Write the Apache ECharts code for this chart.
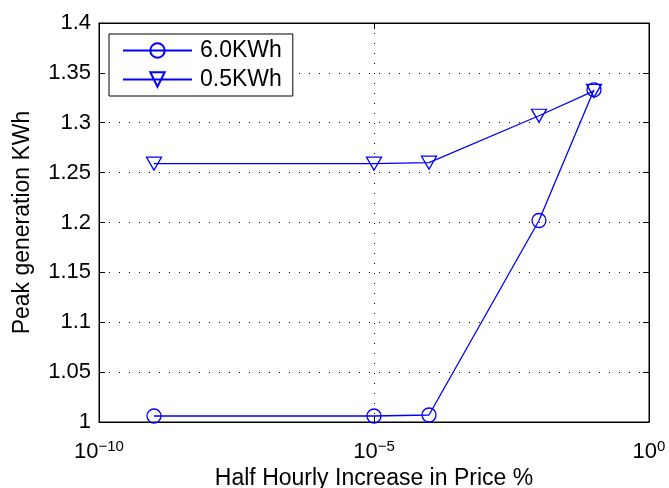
<!DOCTYPE html>
<html>
<head>
<meta charset="utf-8">
<script src="https://cdn.jsdelivr.net/npm/echarts@6/dist/echarts.min.js"></script>
<style>html,body{margin:0;padding:0;background:#fff}#c{width:669px;height:488px}</style>
</head>
<body>
<div id="c"></div>
<script>
const xValues = [1e-9, 1e-5, 1e-4, 1e-2, 1e-1];
const series6kWh = [1.006, 1.006, 1.007, 1.202, 1.333];
const series05kWh = [1.259, 1.259, 1.260, 1.307, 1.332];
const seriesNames = ['6.0KWh', '0.5KWh'];
const xTickExponents = [-10, -5, 0];
const yTicks = [1, 1.05, 1.1, 1.15, 1.2, 1.25, 1.3, 1.35, 1.4];

const FONT = 'Liberation Sans, Arial, Helvetica, sans-serif';
const BLUE = '#0000ff';
const pairs = (xs, ys) => xs.map((x, i) => [x, ys[i]]);

const chart = echarts.init(document.getElementById('c'), null, {renderer: 'canvas'});
const xFmt = v => {
  const e = Math.round(Math.log10(v));
  return '{b|10}{s|' + (e < 0 ? '\u2212' + (-e) : e) + '}';
};
const gridStyle = {show: true, lineStyle: {color: '#000', type: [1, 9], width: 1}};
chart.setOption({
  animation: false,
  backgroundColor: '#fff',
  grid: {left: 99, right: 20, top: 23, bottom: 66, show: true, borderColor: '#000', borderWidth: 1,
         containLabel: false, outerBoundsMode: 'none'},
  legend: {
    left: 109, top: 34, orient: 'vertical',
    data: seriesNames,
    itemWidth: 69, itemHeight: 18, itemGap: 6,
    padding: [5, 11, 5, 13],
    borderColor: '#000', borderWidth: 1, backgroundColor: '#fff',
    textStyle: {fontFamily: FONT, fontSize: 23, color: '#000', padding: [0, 0, 0, 3]}
  },
  xAxis: [{
    type: 'log', logBase: 10, min: 1e-10, max: 1, interval: 5,
    axisLine: {lineStyle: {color: '#000'}},
    axisTick: {inside: true, length: 6, lineStyle: {color: '#000'}},
    minorTick: {show: false},
    splitLine: gridStyle,
    axisLabel: {
      formatter: xFmt, margin: 17,
      rich: {
        b: {fontFamily: FONT, fontSize: 22, color: '#000'},
        s: {fontFamily: FONT, fontSize: 15, color: '#000', verticalAlign: 'top', padding: [0, 0, 10, 0]}
      }
    },
    name: 'Half Hourly Increase in Price %', nameLocation: 'middle', nameGap: 44,
    nameTextStyle: {fontFamily: FONT, fontSize: 23, color: '#000'}
  }, {
    type: 'log', logBase: 10, min: 1e-10, max: 1, interval: 5, position: 'top',
    axisLine: {lineStyle: {color: '#000'}},
    axisTick: {inside: true, length: 6, lineStyle: {color: '#000'}},
    axisLabel: {show: false}, splitLine: {show: false}
  }],
  yAxis: [{
    type: 'value', min: 1, max: 1.4, interval: 0.05,
    axisLine: {show: true, lineStyle: {color: '#000'}},
    axisTick: {show: true, inside: true, length: 6, lineStyle: {color: '#000'}},
    splitLine: gridStyle,
    axisLabel: {fontFamily: FONT, fontSize: 22, color: '#000', margin: 8},
    name: 'Peak generation KWh', nameLocation: 'middle', nameGap: 65,
    nameTextStyle: {fontFamily: FONT, fontSize: 23, color: '#000'}
  }, {
    type: 'value', min: 1, max: 1.4, interval: 0.05, position: 'right',
    axisLine: {show: true, lineStyle: {color: '#000'}},
    axisTick: {show: true, inside: true, length: 6, lineStyle: {color: '#000'}},
    axisLabel: {show: false}, splitLine: {show: false}
  }],
  series: [{
    name: seriesNames[0], type: 'line', xAxisIndex: 0, yAxisIndex: 0,
    data: pairs(xValues, series6kWh),
    symbol: 'circle', symbolSize: 14, showAllSymbol: true,
    lineStyle: {color: BLUE, width: 1.3},
    itemStyle: {color: 'rgba(255,255,255,0)', borderColor: BLUE, borderWidth: 1.3}
  }, {
    name: seriesNames[1], type: 'line', xAxisIndex: 0, yAxisIndex: 0,
    data: pairs(xValues, series05kWh),
    symbol: 'triangle', symbolSize: [15, 13], symbolRotate: 180, showAllSymbol: true,
    lineStyle: {color: BLUE, width: 1.3},
    itemStyle: {color: 'rgba(255,255,255,0)', borderColor: BLUE, borderWidth: 1.3}
  }]
});
</script>
</body>
</html>
